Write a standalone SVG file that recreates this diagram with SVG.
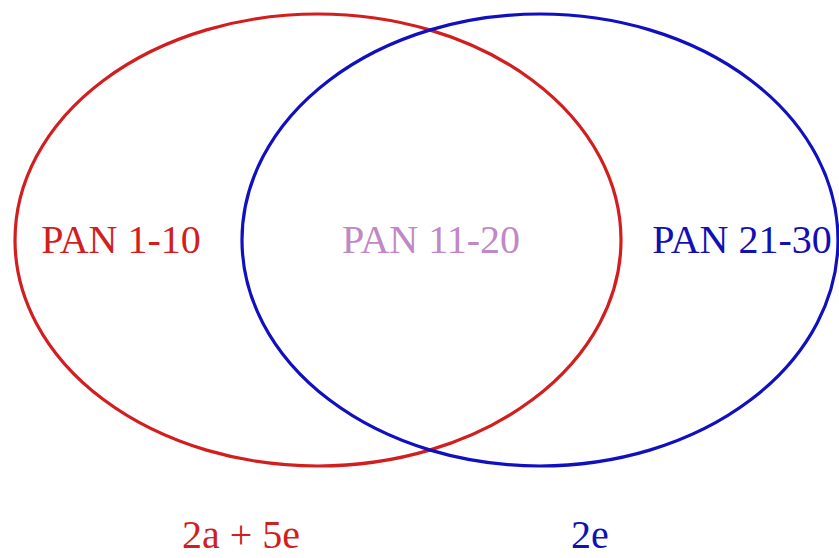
<svg xmlns="http://www.w3.org/2000/svg" width="839" height="558" viewBox="0 0 839 558">
<style>
.e{fill:none;stroke-width:3.2}
.t{font-family:"Liberation Serif","Times New Roman",serif;font-size:40px;text-anchor:middle}
</style>
<rect width="839" height="558" fill="#ffffff"/>
<g id="sets">
<g id="set-red"><ellipse class="e" cx="318" cy="240" rx="303" ry="226" stroke="#d21e1e"/></g>
<g id="set-blue"><ellipse class="e" cx="540" cy="240" rx="298" ry="226" stroke="#1010c0"/></g>
</g>
<g id="labels">
<text class="t" x="121" y="253" fill="#d21e1e">PAN 1-10</text>
<text class="t" x="431" y="253" fill="#c088c6">PAN 11-20</text>
<text class="t" x="742" y="253" fill="#1010b4">PAN 21-30</text>
<text class="t" x="241" y="548" fill="#d21e1e">2a + 5e</text>
<text class="t" x="590" y="548" fill="#1010b4">2e</text>
</g>
</svg>
